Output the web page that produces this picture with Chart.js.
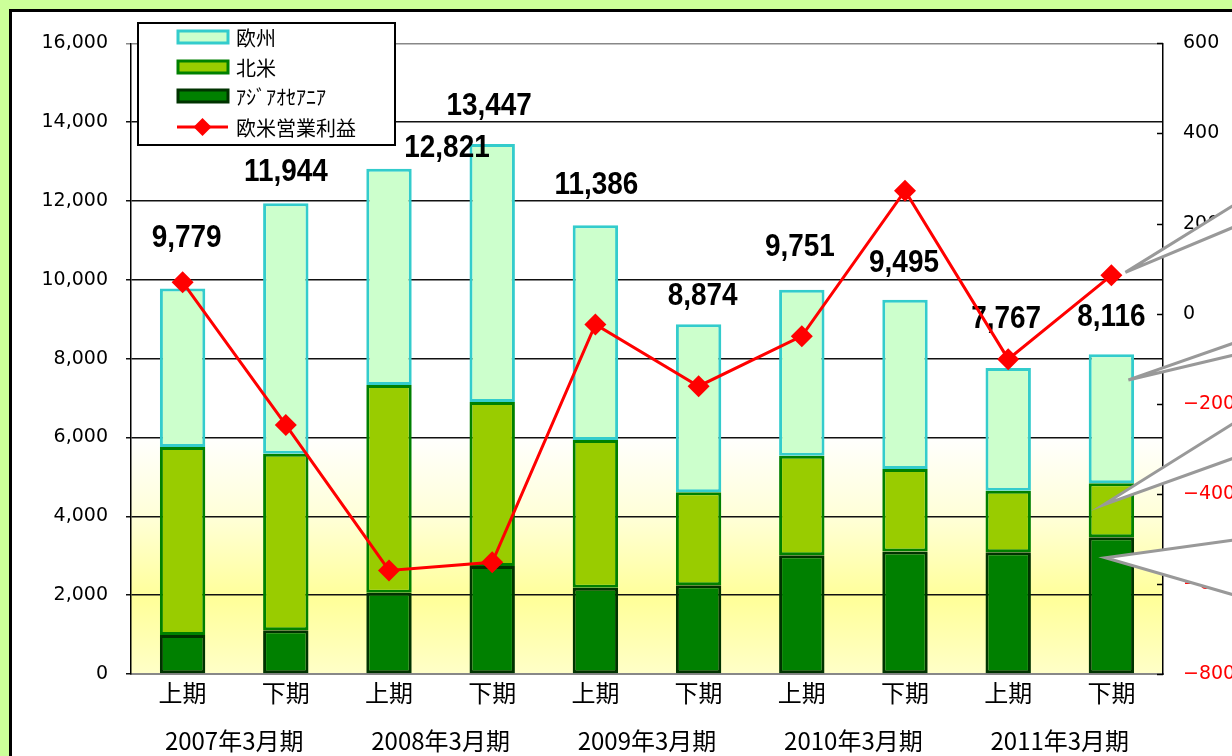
<!DOCTYPE html>
<html><head><meta charset="utf-8">
<script src="https://cdn.jsdelivr.net/npm/chart.js@4"></script>
<style>
html,body{margin:0;padding:0;width:1232px;height:756px;overflow:hidden;background:#ccff99;}
#frame{position:absolute;left:9px;top:9px;width:1400px;height:900px;border-left:3px solid #000;border-top:3px solid #000;background:#fff;}
canvas{position:absolute;left:0;top:0;}
</style></head><body>
<div id="frame"><canvas id="c" width="1300" height="744"></canvas></div>
<script>
// ---- data ----
const categories = ['上期','下期','上期','下期','上期','下期','上期','下期','上期','下期'];
const fiscalYears = ['2007年3月期','2008年3月期','2009年3月期','2010年3月期','2011年3月期'];
const asiaOceania = [990, 1110, 2060, 2740, 2190, 2250, 3010, 3110, 3090, 3470];
const northAmerica = [4770, 4480, 5270, 4160, 3750, 2360, 2530, 2090, 1560, 1370];
const europe = [4019, 6354, 5491, 6547, 5446, 4264, 4211, 4295, 3117, 3276];
const euUsProfit = [70, -247, -570, -552, -24, -161, -50, 273, -101, 85];
const leftTicks = {min:0, max:16000, step:2000};
const rightTicks = {min:-800, max:600, step:200};

// label nudges (style only)
const labelDx = [4,0,58,-3,1,4,-2,-1,-2,0];
const labelDy = [-50,-31,-20,-38,-40,-28,-42,-36,-48,-37];

const bgPlugin = {
  id:'bg',
  beforeDatasetsDraw(chart){
    const {ctx, chartArea:a} = chart;
    const g = ctx.createLinearGradient(0,a.top,0,a.bottom);
    g.addColorStop(0,'#ffffff');
    g.addColorStop(0.62,'#ffffff');
    g.addColorStop(0.75,'#ffffd8');
    g.addColorStop(0.88,'#ffff99');
    g.addColorStop(1,'#ffffc8');
    ctx.save();
    ctx.globalCompositeOperation='destination-over';
    ctx.fillStyle=g;
    ctx.fillRect(a.left,a.top,a.right-a.left,a.bottom-a.top);
    ctx.restore();
  }
};

const totalsPlugin = {
  id:'totals',
  afterDatasetDraw(chart,args){
    if(args.index!==2) return;
    const ctx=chart.ctx, xs=chart.scales.x, ys=chart.scales.y;
    ctx.save();
    ctx.font='bold 31px "Liberation Sans", Arial, sans-serif';
    ctx.fillStyle='#000'; ctx.textAlign='center'; ctx.textBaseline='middle';
    categories.forEach((c,i)=>{
      const total=asiaOceania[i]+northAmerica[i]+europe[i];
      const x=xs.getPixelForValue(i)+labelDx[i];
      const y=ys.getPixelForValue(total)+labelDy[i];
      ctx.save(); ctx.translate(x,y); ctx.scale(0.9,1);
      ctx.fillText(total.toLocaleString('en-US'),0,0);
      ctx.restore();
    });
    ctx.restore();
  }
};

const decorPlugin = {
  id:'decor',
  afterDraw(chart){
    const ctx=chart.ctx, xs=chart.scales.x, ys=chart.scales.y, yr=chart.scales.y1, a=chart.chartArea;
    ctx.save();
    // right axis inward ticks
    ctx.strokeStyle='#000'; ctx.lineWidth=1.5;
    for(let v=rightTicks.min; v<=rightTicks.max; v+=rightTicks.step){
      const y=Math.round(yr.getPixelForValue(v))+0.5;
      ctx.beginPath(); ctx.moveTo(a.right-6,y); ctx.lineTo(a.right,y); ctx.stroke();
    }
    // x labels
    ctx.fillStyle='#000'; ctx.textAlign='center'; ctx.textBaseline='middle';
    ctx.font='24px "Noto Sans CJK JP", sans-serif';
    categories.forEach((c,i)=>{ ctx.fillText(c, xs.getPixelForValue(i), a.bottom+19); });
    fiscalYears.forEach((t,k)=>{
      const x=(xs.getPixelForValue(2*k)+xs.getPixelForValue(2*k+1))/2;
      ctx.fillText(t, x, a.bottom+67);
    });
    // legend
    const L={x:126,y:11,w:257,h:122};
    ctx.fillStyle='#fff'; ctx.fillRect(L.x,L.y,L.w,L.h);
    ctx.strokeStyle='#000'; ctx.lineWidth=2; ctx.strokeRect(L.x,L.y,L.w,L.h);
    const ds=chart.data.datasets;
    const rows=[ds[2],ds[1],ds[0],ds[3]];
    const cys=[25,55,84,115];
    ctx.font='20px "Noto Sans CJK JP", sans-serif'; ctx.textAlign='left';
    rows.forEach((d,r)=>{
      const cy=cys[r];
      if(d.type==='line'){
        ctx.strokeStyle=d.borderColor; ctx.lineWidth=3;
        ctx.beginPath(); ctx.moveTo(165,cy); ctx.lineTo(216,cy); ctx.stroke();
        ctx.fillStyle=d.borderColor; ctx.beginPath();
        ctx.moveTo(190.5-9,cy); ctx.lineTo(190.5,cy-9); ctx.lineTo(190.5+9,cy); ctx.lineTo(190.5,cy+9); ctx.closePath(); ctx.fill();
      } else {
        ctx.fillStyle=d.backgroundColor; ctx.fillRect(166,cy-6,50,12);
        ctx.strokeStyle=d.borderColor; ctx.lineWidth=3; ctx.strokeRect(166,cy-6,50,12);
      }
      ctx.fillStyle='#000'; ctx.fillText(d.label,224,cy+1);
    });
    // callout pointers toward the last bar
    const i=9, x10=xs.getPixelForValue(i);
    const tips=[
      [x10+14, yr.getPixelForValue(euUsProfit[i])-3, 193, 215],
      [x10+17, ys.getPixelForValue(asiaOceania[i]+northAmerica[i]+0.8*europe[i]), 331, 343],
      [x10-8, ys.getPixelForValue(asiaOceania[i]+0.6*northAmerica[i]), 411, 446],
      [x10-6, ys.getPixelForValue(0.85*asiaOceania[i]), 528, 583]
    ];
    ctx.strokeStyle='#999'; ctx.lineWidth=3; ctx.fillStyle='#fff'; ctx.lineJoin='miter';
    tips.forEach(t=>{
      ctx.beginPath(); ctx.moveTo(1222,t[2]); ctx.lineTo(t[0],t[1]); ctx.lineTo(1222,t[3]);
      ctx.fill();
      ctx.beginPath(); ctx.moveTo(1222,t[2]); ctx.lineTo(t[0],t[1]); ctx.lineTo(1222,t[3]); ctx.stroke();
    });
    ctx.restore();
  }
};

new Chart(document.getElementById('c'),{
  data:{
    labels:categories,
    datasets:[
      {type:'bar',label:'ｱｼﾞｱｵｾｱﾆｱ',data:asiaOceania,backgroundColor:'#008000',borderColor:'#003300',borderWidth:3,borderSkipped:false,yAxisID:'y',order:1,barPercentage:0.44,categoryPercentage:1},
      {type:'bar',label:'北米',data:northAmerica,backgroundColor:'#99cc00',borderColor:'#008000',borderWidth:3,borderSkipped:false,yAxisID:'y',order:1,barPercentage:0.44,categoryPercentage:1},
      {type:'bar',label:'欧州',data:europe,backgroundColor:'#ccffcc',borderColor:'#33cccc',borderWidth:3,borderSkipped:false,yAxisID:'y',order:1,barPercentage:0.44,categoryPercentage:1},
      {type:'line',label:'欧米営業利益',data:euUsProfit,borderColor:'#ff0000',backgroundColor:'#ff0000',borderWidth:3,pointStyle:'rectRot',pointRadius:11,pointBorderWidth:0,pointBackgroundColor:'#ff0000',tension:0,yAxisID:'y1',order:0}
    ]
  },
  options:{
    responsive:false, animation:false,
    layout:{padding:{top:29,left:0,right:0,bottom:0}},
    plugins:{legend:{display:false},tooltip:{enabled:false}},
    scales:{
      x:{type:'category',offset:true,stacked:true,grid:{display:false},border:{display:true,color:'#888',width:2},ticks:{display:false},afterFit(s){s.height=82;}},
      y:{position:'left',stacked:true,min:leftTicks.min,max:leftTicks.max,
         ticks:{stepSize:leftTicks.step,color:'#000',font:{family:'"DejaVu Sans"',size:19},padding:18,callback:v=>Number(v).toLocaleString('en-US')},
         grid:{color:c=>(c.tick&&c.tick.value===leftTicks.max)?'#888':'#111',lineWidth:1.5,tickLength:5,drawTicks:true},
         border:{display:true,color:'#000',width:1.5},afterFit(s){s.width=119;}},
      y1:{position:'right',min:rightTicks.min,max:rightTicks.max,
         ticks:{stepSize:rightTicks.step,color:c=>(c.tick&&c.tick.value<0)?'#ff0000':'#000',font:{family:'"DejaVu Sans"',size:19},padding:20,callback:v=>v<0?'\u2212'+Math.abs(v):String(v)},
         grid:{display:false,drawTicks:false},border:{display:true,color:'#000',width:1.5},afterFit(s){s.width=149;}}
    }
  },
  plugins:[bgPlugin,totalsPlugin,decorPlugin]
});
</script>
</body></html>
